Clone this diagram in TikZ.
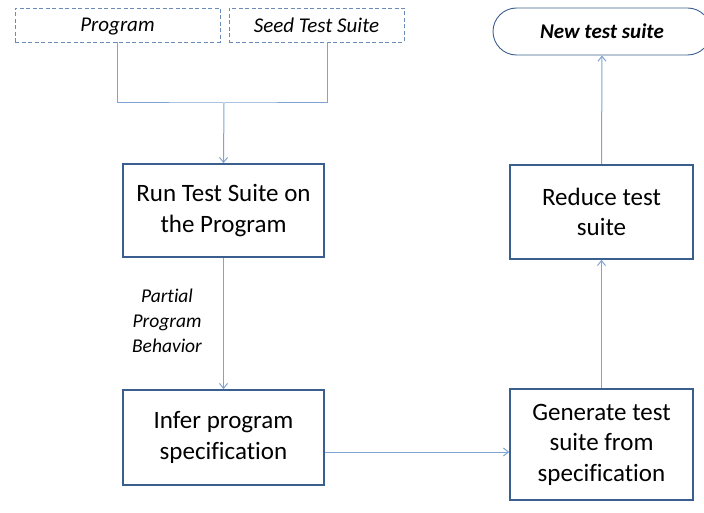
\documentclass[tikz,border=0pt]{standalone}
\usepackage{fontspec}
\setmainfont[RawFeature={-liga}]{Carlito}
\usetikzlibrary{arrows.meta,shapes.misc}
\definecolor{boxblue}{HTML}{3A5F8F}
\definecolor{linkblue}{HTML}{7FA3D3}
\definecolor{dashblue}{HTML}{6A8AB8}
\tikzset{
  stepbox/.style={draw=boxblue,line width=1.6pt,align=center,font=\fontsize{25}{30.5}\selectfont,inner sep=0pt},
  inbox/.style={draw=dashblue,dashed,dash pattern=on 4pt off 2.5pt,line width=0.9pt,font=\fontsize{21}{22}\selectfont\itshape,inner sep=0pt,text depth=0pt},
  link/.style={draw=linkblue,line width=1pt},
  arr/.style={link,-{Straight Barb[length=5pt,width=8pt]}}
}
\begin{document}
\begin{tikzpicture}[x=1pt,y=-1pt]
\useasboundingbox (0,0) rectangle (704,513);
\node[inbox,minimum width=205pt,minimum height=34pt] (prog) at (117.5,25) {Program};
\node[inbox,minimum width=175pt,minimum height=34pt] (seed) at (316.5,25) {Seed Test Suite};
\node[stepbox,minimum width=201pt,minimum height=93pt] (run) at (223.5,210.5) {Run Test Suite on\\the Program};
\node[stepbox,minimum width=201pt,minimum height=95pt] (infer) at (223.5,437.5) {Infer program\\specification};
\node[stepbox,minimum width=183pt,minimum height=111pt] (gen) at (601.5,444.5) {Generate test\\suite from\\specification};
\node[stepbox,minimum width=183pt,minimum height=94pt] (red) at (601.5,212) {Reduce test\\suite};
\node[draw=boxblue,line width=0.9pt,rounded rectangle,minimum width=218pt,minimum height=47pt,inner sep=0pt,font=\fontsize{21}{22}\selectfont\bfseries\itshape] (new) at (602,31.5) {New test suite};
\node[align=center,font=\fontsize{19.5}{25}\selectfont\itshape] (lab) at (167,321) {Partial\\Program\\Behavior};
\coordinate (join) at (224,103);
\draw[link] (prog.south) |- (join) -| (seed.south -| 327,0);
\draw[arr] (join) -- (run.north);
\draw[arr] (run.south) -- (infer.north);
\path (infer.east) ++(0,14.5) coordinate (ie);
\draw[arr] (ie) -- (ie -| gen.west);
\draw[arr] (gen.north) -- (red.south);
\draw[arr] (red.north) -- (new.south);
\end{tikzpicture}
\end{document}
